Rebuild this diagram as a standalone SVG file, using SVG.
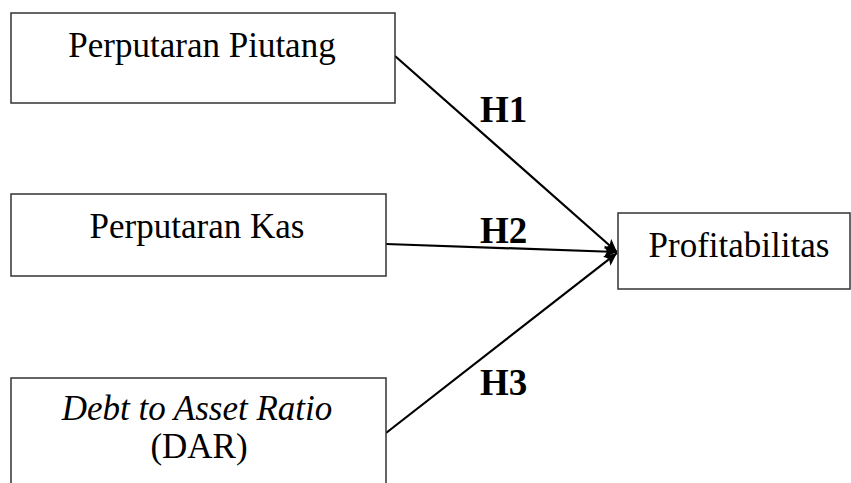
<svg xmlns="http://www.w3.org/2000/svg" width="851" height="483" viewBox="0 0 851 483">
<style>
.box{fill:#fff;stroke:#333;stroke-width:1.5}
.t{font-family:"Liberation Serif","Times New Roman",serif;font-size:35px;fill:#000;text-anchor:middle}
.h{font-family:"Liberation Serif","Times New Roman",serif;font-size:37px;font-weight:bold;fill:#000}
.c{stroke:#000;stroke-width:2.2;fill:none;marker-end:url(#ah)}
</style>
<defs>
<marker id="ah" markerWidth="14" markerHeight="14" refX="13" refY="7" orient="auto" markerUnits="userSpaceOnUse">
<path d="M0,1 L13,7 L0,13 L3,7 Z" fill="#000"/>
</marker>
</defs>
<rect width="851" height="483" fill="#fff"/>
<g id="connectors">
<line class="c" x1="395" y1="56" x2="617" y2="252"/>
<line class="c" x1="386" y1="244" x2="617" y2="252"/>
<line class="c" x1="386" y1="433" x2="617" y2="253"/>
</g>
<g id="node-piutang">
<rect class="box" x="11" y="13" width="384" height="90"/>
<text class="t" x="202" y="57">Perputaran Piutang</text>
</g>
<g id="node-kas">
<rect class="box" x="11" y="194" width="375" height="82"/>
<text class="t" x="197" y="238">Perputaran Kas</text>
</g>
<g id="node-dar">
<rect class="box" x="11" y="378" width="375" height="110"/>
<text class="t" x="197" y="420" font-style="italic">Debt to Asset Ratio</text>
<text class="t" x="199" y="458">(DAR)</text>
</g>
<g id="node-profit">
<rect class="box" x="618" y="213" width="232" height="76"/>
<text class="t" x="739" y="257">Profitabilitas</text>
</g>
<g id="labels">
<text class="h" x="480" y="122">H1</text>
<text class="h" x="480" y="243">H2</text>
<text class="h" x="480" y="395">H3</text>
</g>
</svg>
